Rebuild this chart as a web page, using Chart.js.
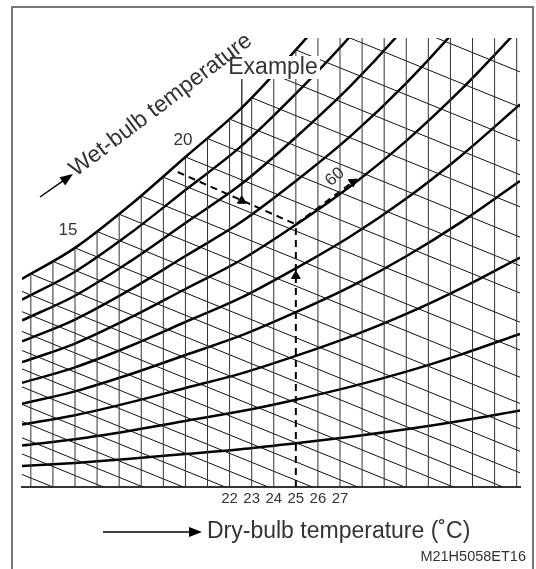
<!DOCTYPE html>
<html>
<head>
<meta charset="utf-8">
<script src="https://cdn.jsdelivr.net/npm/chart.js@4"></script>
<style>
  html, body { margin: 0; padding: 0; background: #fff; }
</style>
</head>
<body>
<canvas id="psychro" width="536" height="569"></canvas>
<script>
// dry-bulb temperatures (degC) where the humidity curves were read
const curveTemps = [12.6, 15, 17.5, 20, 22.5, 25, 27.5, 30, 32.5, 35.15];
// relative humidity curves 10..100 %, absolute humidity (g/kg)
const rh10  = [0.93, 1.07, 1.26, 1.47, 1.68, 1.95, 2.24, 2.57, 2.95, 3.41];
const rh20  = [1.85, 2.13, 2.51, 2.94, 3.37, 3.89, 4.47, 5.14, 5.91, 6.82];
const rh30  = [2.78, 3.20, 3.77, 4.41, 5.05, 5.84, 6.71, 7.71, 8.86, 10.22];
const rh40  = [3.71, 4.26, 5.02, 5.88, 6.74, 7.79, 8.94, 10.28, 11.81, 13.63];
const rh50  = [4.64, 5.33, 6.28, 7.35, 8.42, 9.74, 11.18, 12.85, 14.77, 17.04];
const rh60  = [5.56, 6.39, 7.54, 8.82, 10.10, 11.68, 13.42, 15.42, 17.72, 20.45];
const rh70  = [6.49, 7.46, 8.79, 10.29, 11.79, 13.63, 15.65, 17.99, 20.67, 23.86];
const rh80  = [7.42, 8.52, 10.05, 11.76, 13.47, 15.58, 17.89, 20.56, 23.62, 27.26];
const rh90  = [8.34, 9.59, 11.30, 13.23, 15.16, 17.52, 20.12, 23.13, 26.58, 30.67];
const rh100 = [9.27, 10.65, 12.56, 14.70, 16.84, 19.47, 22.36, 25.70, 29.53, 34.08];

// dry-bulb lines (degC) and the humidity where each one stops at the top
const dryBulbLines = [13, 14, 15, 16, 17, 18, 19, 20, 21, 22, 23, 24, 25,
                      26, 27, 28, 29, 30, 31, 32, 33, 34, 35];
const dryBulbTop = [9.49, 10.05, 10.65, 11.38, 12.15, 12.96, 13.80, 14.70, 15.52, 16.39, 17.34, 18.37, 19.47,
                    20, 20, 20, 20, 20, 20, 20, 20, 20, 20];

// wet-bulb lines: start on saturation, end on bottom / right edge
const wetBulbTemps = [2, 3, 4, 5, 6, 7, 8, 9, 10, 11, 12, 13, 14, 15, 16, 17, 18, 19, 20, 21, 22, 23, 24, 25, 26, 27];
const wetBulbStart = [4.80, 5.31, 5.63, 5.96, 6.32, 6.70, 7.10, 7.52, 7.97, 8.45, 8.95, 9.49, 10.05,
                      10.65, 11.38, 12.15, 12.96, 13.80, 14.70, 15.52, 16.39, 17.34, 18.37, 19.47, 20.58, 21.75];
const wetBulbEndX = [14.0, 16.28, 18.08, 19.9, 21.8, 23.75, 25.75, 27.8, 29.93, 32.13, 34.38, 35.15, 35.15,
                     35.15, 35.15, 35.15, 35.15, 35.15, 35.15, 35.15, 35.15, 35.15, 35.15, 35.15, 35.15, 35.15];
const wetBulbEndY = [0, 0, 0, 0, 0, 0, 0, 0, 0, 0, 0, 0.63, 1.59,
                     2.59, 3.72, 4.89, 6.10, 7.34, 8.64, 9.86, 11.13, 12.48, 13.91, 15.41, 16.92, 18.49];

const tickLabels = [22, 23, 24, 25, 26, 27];

// example: 25 degC dry bulb, 60 % RH
const exampleDryBulb = 25;
const exampleHumidity = 11.7;
const exampleWetStart = [19.65, 14.03];
const exampleRhEnd = [27.58, 13.59];
const examplePointer = [22.55, 18.2, 12.95];

const rhCurves = [rh10, rh20, rh30, rh40, rh50, rh60, rh70, rh80, rh90, rh100];
const FONT = "'Liberation Sans', Arial, sans-serif";

const line = (data, extra) => Object.assign({
  data, showLine: true, pointRadius: 0, borderColor: '#000', borderWidth: 1, fill: false
}, extra);

const datasets = [];
dryBulbLines.forEach((t, i) => {
  const bottom = t === exampleDryBulb ? exampleHumidity : 0;
  datasets.push(line([{x: t, y: bottom}, {x: t, y: dryBulbTop[i]}], {borderColor: '#333'}));
});
wetBulbTemps.forEach((t, i) => {
  datasets.push(line([{x: t, y: wetBulbStart[i]}, {x: wetBulbEndX[i], y: wetBulbEndY[i]}], {borderColor: '#111'}));
});
rhCurves.forEach(c => {
  datasets.push(line(curveTemps.map((t, i) => ({x: t, y: c[i]})),
    {borderWidth: 2.5, cubicInterpolationMode: 'monotone'}));
});
// example path
datasets.push(line([{x: exampleDryBulb, y: 0}, {x: exampleDryBulb, y: exampleHumidity}],
  {borderWidth: 2, borderDash: [7, 5]}));
datasets.push(line([{x: exampleWetStart[0], y: exampleWetStart[1]}, {x: exampleDryBulb, y: exampleHumidity}],
  {borderWidth: 2, borderDash: [7, 5]}));
datasets.push(line([{x: exampleDryBulb, y: exampleHumidity}, {x: exampleRhEnd[0], y: exampleRhEnd[1]}],
  {borderWidth: 2, borderDash: [7, 5]}));
datasets.push(line([{x: examplePointer[0], y: examplePointer[1]}, {x: examplePointer[0], y: examplePointer[2]}],
  {borderColor: '#444'}));
// arrow heads
const head = (x, y, rot, r) => ({
  data: [{x, y}], showLine: false, pointStyle: 'triangle', pointRadius: r, rotation: rot,
  backgroundColor: '#000', borderColor: '#000', borderWidth: 1
});
datasets.push(head(exampleDryBulb, 9.4, 0, 5));
datasets.push(head(examplePointer[0], examplePointer[2] - 0.2, 0, 5));
datasets.push(head(exampleRhEnd[0], exampleRhEnd[1], 55, 5));

const annotations = {
  id: 'annotations',
  afterDatasetsDraw(chart) {
    const ctx = chart.ctx;
    ctx.save();
    // border frame
    ctx.strokeStyle = '#777';
    ctx.lineWidth = 2;
    ctx.beginPath();
    ctx.moveTo(12, 569); ctx.lineTo(12, 7); ctx.lineTo(533, 7); ctx.lineTo(533, 569);
    ctx.stroke();

    const text = (s, x, y, size, angle, align) => {
      ctx.save();
      ctx.translate(x, y);
      ctx.rotate((angle || 0) * Math.PI / 180);
      ctx.font = size + 'px ' + FONT;
      ctx.fillStyle = '#333';
      ctx.textAlign = align || 'center';
      ctx.textBaseline = 'middle';
      ctx.fillText(s, 0, 0);
      ctx.restore();
    };
    const arrow = (x1, y1, x2, y2) => {
      const a = Math.atan2(y2 - y1, x2 - x1);
      ctx.strokeStyle = '#000';
      ctx.fillStyle = '#000';
      ctx.lineWidth = 1.5;
      ctx.beginPath();
      ctx.moveTo(x1, y1);
      ctx.lineTo(x2 - 10 * Math.cos(a), y2 - 10 * Math.sin(a));
      ctx.stroke();
      ctx.beginPath();
      ctx.moveTo(x2, y2);
      ctx.lineTo(x2 - 13 * Math.cos(a) + 5 * Math.sin(a), y2 - 13 * Math.sin(a) - 5 * Math.cos(a));
      ctx.lineTo(x2 - 13 * Math.cos(a) - 5 * Math.sin(a), y2 - 13 * Math.sin(a) + 5 * Math.cos(a));
      ctx.closePath();
      ctx.fill();
    };

    // Example label with white box
    ctx.fillStyle = '#fff';
    ctx.fillRect(226, 56, 94, 23);
    text('Example', 273, 68, 23);

    // wet-bulb label
    arrow(40, 197, 73, 174);
    ctx.save();
    ctx.translate(76, 177);
    ctx.rotate(-37 * Math.PI / 180);
    ctx.font = '23px ' + FONT;
    ctx.fillStyle = '#333';
    ctx.textAlign = 'left';
    ctx.textBaseline = 'alphabetic';
    ctx.fillText('Wet-bulb temperature', 0, 0);
    ctx.restore();

    text('20', 183, 140, 17);
    text('15', 68, 230, 17);
    text('60', 335, 177, 17, -42);

    // dry-bulb axis title
    arrow(103, 532, 202, 532);
    text('Dry-bulb temperature (˚C)', 207, 532, 23, 0, 'left');

    text('M21H5058ET16', 526, 557, 14.5, 0, 'right');
    ctx.restore();
  }
};

new Chart(document.getElementById('psychro'), {
  type: 'scatter',
  data: { datasets },
  options: {
    responsive: false,
    animation: false,
    devicePixelRatio: 1,
    events: [],
    layout: { padding: { left: 22, right: 16, top: 38, bottom: 0 } },
    plugins: { legend: { display: false }, tooltip: { enabled: false } },
    scales: {
      x: {
        type: 'linear',
        min: 12.6,
        max: 35.15,
        grid: { display: false, drawTicks: false },
        border: { display: true, color: '#333', width: 2 },
        afterBuildTicks: scale => { scale.ticks = tickLabels.map(v => ({ value: v })); },
        afterFit: scale => { scale.height = 82; },
        ticks: {
          autoSkip: false,
          maxRotation: 0,
          padding: 3,
          color: '#333',
          font: { family: FONT, size: 15 }
        }
      },
      y: {
        type: 'linear',
        min: 0,
        max: 20,
        display: false
      }
    }
  },
  plugins: [annotations]
});
</script>
</body>
</html>
